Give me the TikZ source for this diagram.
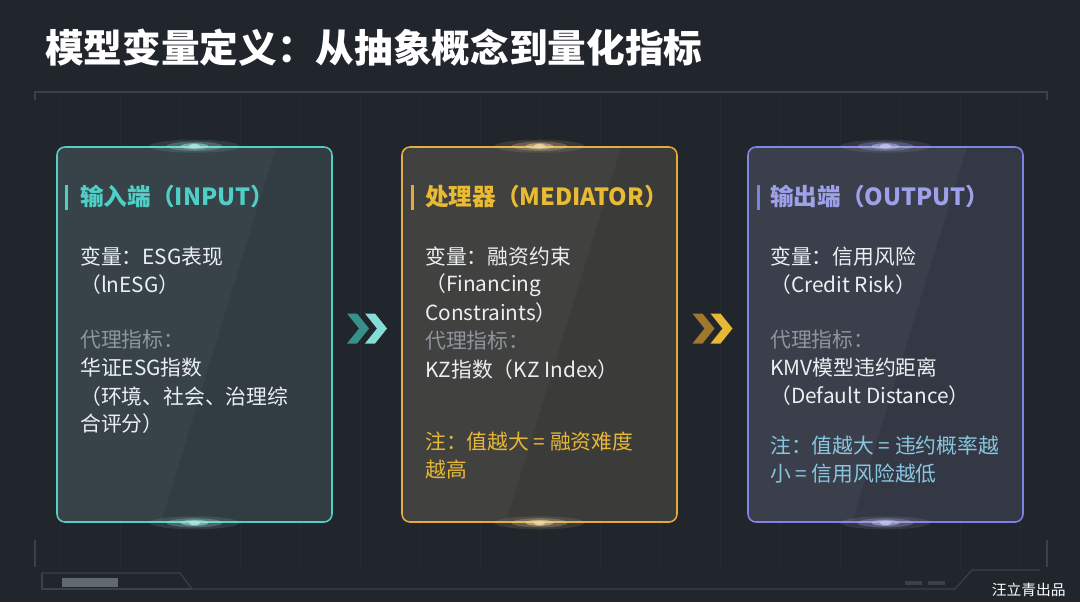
\documentclass[tikz,border=0pt]{standalone}
\usepackage{fontspec}
\setmainfont{Noto Sans CJK SC}
\usepackage{tikz}
\usetikzlibrary{positioning, calc}
\definecolor{bgdark}{HTML}{21252C}
\definecolor{framegray}{HTML}{3B414A}
\definecolor{incol}{HTML}{4FCFC6}
\definecolor{medcol}{HTML}{E3AA40}
\definecolor{outcol}{HTML}{7E82E2}
\definecolor{txtwhite}{HTML}{ECEFF1}
\definecolor{lblgray}{HTML}{8E959C}
\definecolor{noteblue}{HTML}{88C6DF}
\newcommand{\titlefont}{\fontsize{27.5pt}{32pt}\selectfont\bfseries}
\newcommand{\headfont}{\fontsize{16.8pt}{20pt}\selectfont\bfseries}
\newcommand{\bodyfont}{\fontsize{14.8pt}{18pt}\selectfont}
\newcommand{\dblchev}[3]{%
  \begin{scope}[shift={(#1)}]
    \fill[#2] (-20,-15) -- (-10,-15) -- (2,0) -- (-10,15) -- (-20,15) -- (-8,0) -- cycle;
    \fill[#3] (-2,-15) -- (8,-15) -- (20,0) -- (8,15) -- (-2,15) -- (10,0) -- cycle;
  \end{scope}}
\newcommand{\glow}[2]{%
  \foreach \r/\o in {45/0.12, 28/0.25, 14/0.5, 6/0.9}
    \fill[#2!50!white, opacity=\o] (#1) ellipse [x radius=\r, y radius=\r/9+1.5];}

\begin{document}
\begin{tikzpicture}[x=0.25mm, y=-0.25mm,
    panel/.style={draw=#1, line width=1.1pt, rounded corners=2mm, fill=#1!7!bgdark!94!white,
      minimum width=68.75mm, minimum height=93.75mm, inner sep=0pt},
    txt/.style={anchor=west, inner sep=0pt, text=txtwhite, font=\bodyfont},
    lbl/.style={txt, text=lblgray},
    head/.style={anchor=west, inner sep=0pt, font=\headfont}]
    \fill[bgdark] (0,0) rectangle (1080,602);
    \useasboundingbox (0,0) rectangle (1080,602);
    % faint grid
    \draw[white, opacity=0.03, step=60] (35,92) grid (1047,567);
    % frame
    \draw[framegray, line width=0.8pt] (35,100) -- (35,92) -- (1047,92) -- (1047,100);
    \draw[framegray, line width=1pt] (35,540) -- (35,567);
    \draw[framegray, line width=1pt] (1047,540) -- (1047,567);
    \draw[framegray, line width=0.8pt] (42,573) -- (180,573) -- (192,589) -- (955,589) -- (972,570) -- (1040,570);
    \draw[framegray, line width=0.8pt] (42,573) -- (42,589) -- (192,589);
    \fill[lblgray, opacity=0.6] (62,578) rectangle (118,587);
    \fill[framegray] (905,581) rectangle (922,585);
    \fill[framegray] (928,581) rectangle (945,585);
    % title
    \node[anchor=west, inner sep=0pt, text=white, font=\titlefont] (Title) at (45,48) {模型变量定义：从抽象概念到量化指标};
    % panels
    \node[panel=incol] (In) at (194.5,334.5) {};
    \node[panel=medcol] (Med) at (539.5,334.5) {};
    \node[panel=outcol] (Out) at (885.5,334.5) {};
    \foreach \b in {In, Med, Out} {
      \begin{scope}
        \clip[rounded corners=2mm] (\b.north west) rectangle (\b.south east);
        \fill[white, opacity=0.035] (\b.north west) -- ++(220,0) -- ++(-115,375) -- (\b.south west) -- cycle;
      \end{scope}
    }
    \glow{In.north}{incol}
    \glow{In.south}{incol}
    \glow{Med.north}{medcol}
    \glow{Med.south}{medcol}
    \glow{Out.north}{outcol}
    \glow{Out.south}{outcol}
    % input
    \fill[incol] (65,185) rectangle (68,210);
    \node[head, text=incol] (InH) at (80,197) {输入端（INPUT）};
    \node[txt] (InV1) at (80,257) {变量：ESG表现};
    \node[txt] (InV2) at (80,285) {（lnESG）};
    \node[lbl] (InP1) at (80,340) {代理指标：};
    \node[txt] (InP2) at (80,368) {华证ESG指数};
    \node[txt] (InP3) at (80,397) {（环境、社会、治理综};
    \node[txt] (InP4) at (80,424) {合评分）};
    % mediator
    \fill[medcol] (411,185) rectangle (414,210);
    \node[head, text=medcol!80!yellow] (MedH) at (425,197) {处理器（MEDIATOR）};
    \node[txt] (MedV1) at (425,257) {变量：融资约束};
    \node[txt] (MedV2) at (425,285) {（Financing};
    \node[txt] (MedV3) at (425,313) {Constraints）};
    \node[lbl] (MedP1) at (425,341) {代理指标：};
    \node[txt] (MedP2) at (425,370) {KZ指数（KZ Index）};
    \node[txt, text=medcol!85!yellow] (MedN1) at (425,442) {注：值越大 = 融资难度};
    \node[txt, text=medcol!85!yellow] (MedN2) at (425,470) {越高};
    % output
    \fill[outcol] (757,185) rectangle (760,210);
    \node[head, text=outcol!75!white] (OutH) at (770,197) {输出端（OUTPUT）};
    \node[txt] (OutV1) at (770,257) {变量：信用风险};
    \node[txt] (OutV2) at (770,285) {（Credit Risk）};
    \node[lbl] (OutP1) at (770,340) {代理指标：};
    \node[txt] (OutP2) at (770,368) {KMV模型违约距离};
    \node[txt] (OutP3) at (770,396) {（Default Distance）};
    \node[txt, text=noteblue] (OutN1) at (770,446) {注：值越大 = 违约概率越};
    \node[txt, text=noteblue] (OutN2) at (770,474) {小 = 信用风险越低};
    % arrows between panels
    \coordinate (M1) at ($(In.east)!0.5!(Med.west)+(0,-6)$);
    \coordinate (M2) at ($(Med.east)!0.5!(Out.west)+(0,-6)$);
    \dblchev{M1}{incol!70!black}{incol!70!white}
    \dblchev{M2}{medcol!70!black}{medcol!85!yellow}
    % signature
    \node[anchor=east, inner sep=0pt, text=white, font=\fontsize{10.5pt}{12pt}\selectfont] (Sig) at (1066,590) {汪立青出品};
\end{tikzpicture}
\end{document}
